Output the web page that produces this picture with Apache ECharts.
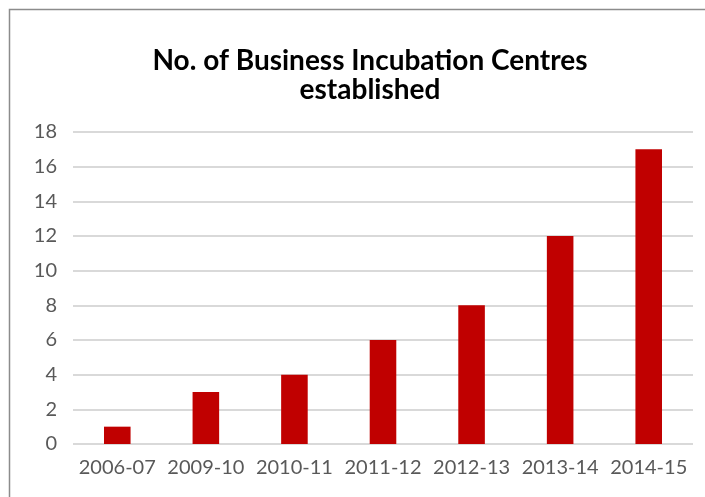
<!DOCTYPE html>
<html>
<head>
<meta charset="utf-8">
<script src="https://cdn.jsdelivr.net/npm/echarts@6/dist/echarts.min.js"></script>
<style>
  html, body { margin: 0; padding: 0; background: #fff; }
  #chartmain { width: 705px; height: 497px; }
</style>
</head>
<body>
<div id="chartmain"></div>
<script>
var years = ['2006-07', '2009-10', '2010-11', '2011-12', '2012-13', '2013-14', '2014-15'];
var centres = [1, 3, 4, 6, 8, 12, 17];
var titleText = 'No. of Business Incubation Centres\nestablished';

var chart = echarts.init(document.getElementById('chartmain'));
chart.setOption({
    animation: false,
    graphic: [{
        type: 'rect',
        shape: { x: 9.5, y: 9.5, width: 720, height: 520 },
        style: { fill: 'none', stroke: '#8c8c8c', lineWidth: 1.5 }
    }],
    title: {
        text: titleText,
        left: 365,
        top: 41,
        textAlign: 'center',
        textStyle: {
            fontFamily: 'Lato',
            fontWeight: 'bold',
            fontSize: 28,
            lineHeight: 29,
            color: '#000'
        }
    },
    grid: { left: 73, right: 12, top: 132, bottom: 53 },
    xAxis: {
        type: 'category',
        data: years,
        axisLine: { show: false },
        axisTick: { show: false },
        axisLabel: {
            fontFamily: 'Lato',
            fontSize: 20,
            color: '#595959',
            margin: 14,
            interval: 0
        }
    },
    yAxis: {
        type: 'value',
        min: 0,
        max: 18,
        interval: 2,
        axisLine: { show: false },
        axisTick: { show: false },
        splitLine: { lineStyle: { color: '#d9d9d9', width: 2 } },
        axisLabel: {
            fontFamily: 'Lato',
            fontSize: 20,
            color: '#595959',
            margin: 16
        }
    },
    series: [{
        type: 'bar',
        data: centres,
        barCategoryGap: '70%',
        itemStyle: { color: '#c00000' }
    }]
});
</script>
</body>
</html>
